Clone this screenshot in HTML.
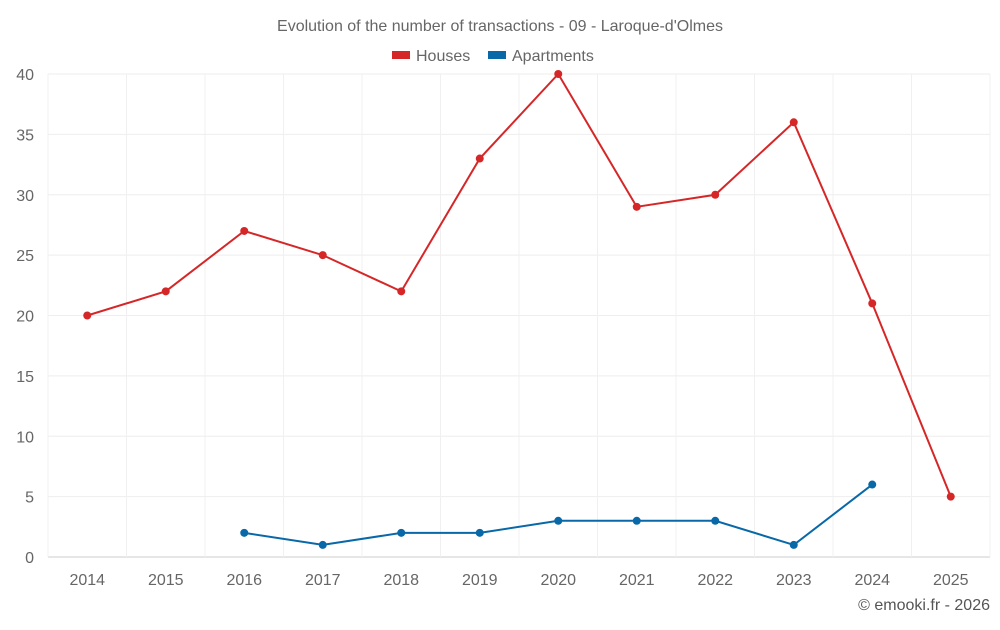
<!DOCTYPE html>
<html><head><meta charset="utf-8"><style>
body{margin:0;background:#fff;font-family:"Liberation Sans",sans-serif}
svg text{font-family:"Liberation Sans",sans-serif}
</style></head><body>
<svg id="chart" width="1000" height="625">
<text x="500" y="31" text-anchor="middle" font-size="16" fill="#666">Evolution of the number of transactions - 09 - Laroque-d'Olmes</text>
<g>
<g><rect x="392" y="51" width="18" height="8" fill="#d62728"/><text x="416" y="61" font-size="16" fill="#666">Houses</text></g>
<g><rect x="488" y="51" width="18" height="8" fill="#0868a8"/><text x="512" y="61" font-size="16" fill="#666">Apartments</text></g>
</g>
<g id="grid"></g><g id="axes"></g><g id="series"></g>
<text x="990" y="610" text-anchor="end" font-size="16" fill="#555">© emooki.fr - 2026</text>
</svg>
<script>
const years=["2014","2015","2016","2017","2018","2019","2020","2021","2022","2023","2024","2025"];
const houses=[20,22,27,25,22,33,40,29,30,36,21,5];
const apartments=[null,null,2,1,2,2,3,3,3,1,6,null];
const yTicks=[0,5,10,15,20,25,30,35,40];
const L=48,R=990,T=74,B=557,yMax=40;
const bw=(R-L)/years.length;
const x=i=>L+bw*(i+0.5);
const y=v=>B-(v/yMax)*(B-T);
const NS="http://www.w3.org/2000/svg";
function mk(tag,attrs,parent){const e=document.createElementNS(NS,tag);for(const k in attrs)e.setAttribute(k,attrs[k]);parent.appendChild(e);return e;}
const grid=document.getElementById('grid'),axes=document.getElementById('axes'),ser=document.getElementById('series');
yTicks.forEach(t=>{
 const l=mk('line',{x1:L,x2:R,y1:y(t),y2:y(t),stroke:t===0?'#ccc':'#eee'},grid);
 
 
 const tx=mk('text',{x:34,y:y(t)+6,'text-anchor':'end','font-size':16,fill:'#666'},axes);
 tx.textContent=t;
 
 
});
for(let i=0;i<=years.length;i++){
 const l=mk('line',{x1:L+bw*i,x2:L+bw*i,y1:T,y2:B,stroke:'#f0f0f0'},grid);
 
 
}
years.forEach((yr,i)=>{
 const tx=mk('text',{x:x(i),y:585,'text-anchor':'middle','font-size':16,fill:'#666'},axes);
 tx.textContent=yr;
 
 
});
function draw(vals,color,name){
 let d='';vals.forEach((v,i)=>{if(v==null)return;d+=(d?'L':'M')+x(i)+','+y(v);});
 const p=mk('path',{d:d,fill:'none',stroke:color,'stroke-width':2},ser);
 
 
 vals.forEach((v,i)=>{if(v==null)return;
  const c=mk('circle',{cx:x(i),cy:y(v),r:4,fill:color},ser);
  
  
 });
}
draw(houses,'#d62728','houses');
draw(apartments,'#0868a8','apartments');
</script>
</body></html>
